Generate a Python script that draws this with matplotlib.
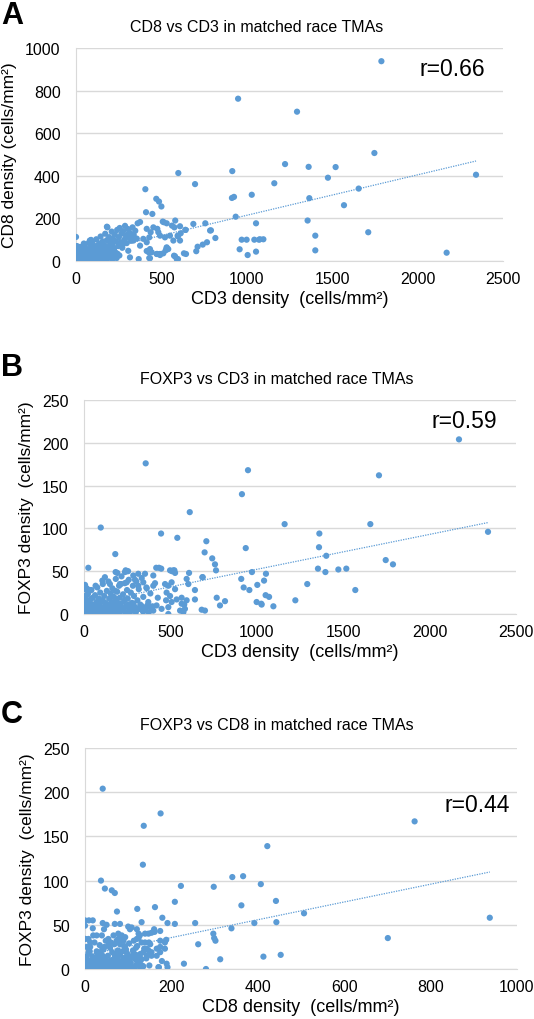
import numpy as np
import matplotlib.pyplot as plt

plt.rcParams['font.family'] = ['Liberation Sans', 'DejaVu Sans']

# ---------------- Painel A: CD8 vs CD3 ----------------
# pontos dispersos (fora do aglomerado principal)
a_cd3 = [1788, 1294, 1747, 1224, 1362, 1520, 1475, 1161, 1655, 1366, 1569, 2342, 1356, 1711,
         1401, 1401, 2170, 1097, 1077, 949, 915, 599, 697, 1029, 913, 925, 935, 406, 470, 486,
         500, 410, 447, 361, 375, 581, 508, 531, 687, 757, 790, 816, 1054, 970, 999, 1044,
         1071, 958, 1005, 1054, 767, 742, 712, 704, 640, 613, 597, 632, 644, 574, 597, 531,
         525, 472, 492, 511, 429, 367, 414, 426, 0, 0, 181, 88, 514, 562, 576, 609, 642, 453,
         476, 482, 414, 437, 429, 394, 414, 492, 521, 550, 570, 595, 609, 375, 433, 443, 476,
         492, 531, 540, 580, 590, 433, 785, 306, 326, 336, 306, 316, 184, 82]
a_cd8 = [938, 701, 507, 455, 442, 441, 391, 365, 340, 295, 262, 405, 190, 135,
         119, 50, 39, 102, 102, 762, 422, 413, 361, 311, 296, 301, 208, 337, 292, 279,
         256, 229, 221, 177, 183, 190, 185, 177, 174, 177, 144, 108, 177, 100, 100, 100,
         100, 55, 28, 44, 88, 77, 67, 46, 146, 130, 116, 36, 33, 25, 9, 61,
         50, 33, 33, 36, 14, 9, 47, 41, 113, 69, 161, 99, 182, 166, 158, 163, 146, 158,
         151, 135, 151, 135, 111, 104, 88, 119, 111, 119, 96, 119, 96, 72, 56, 41, 33,
         28, 64, 56, 22, 9, 13, 143, 127, 111, 96, 48, 17, 158, 96]
# aglomerado de baixa densidade
a_cd3_aglom = [4, 7, 11, 14, 19, 23, 26, 31, 36, 39, 44, 47, 53, 57, 61, 66, 69, 74, 79, 83,
               87, 93, 96, 101, 106, 111, 116, 119, 124, 131, 134, 139, 144, 149, 153, 157, 163,
               167, 171, 176, 181, 186, 189, 194, 199, 204, 209, 213, 217, 223, 227, 233, 236,
               241, 247, 251, 256, 261, 266, 271, 276, 283, 287, 293, 297, 304, 311, 316, 323,
               331, 338, 347, 356, 9, 17, 29, 42, 58, 71, 89, 104, 122, 137, 158, 178, 196, 214,
               231, 254, 273, 2, 5, 13, 21, 27, 34, 41, 49, 55, 63, 68, 77, 85, 92, 99, 108, 114,
               127, 141, 148, 16, 38, 51, 73, 95, 118, 6, 24, 46, 81,
               3, 8, 15, 22, 28, 35, 43, 50, 58, 65, 72, 80, 88, 97, 105, 113, 121, 129, 138, 146,
               155, 164, 173, 183, 192, 202, 212, 222, 232, 243, 12, 32, 54, 76, 98, 126, 152,
               178, 206, 238]
a_cd8_aglom = [12, 40, 3, 25, 58, 9, 33, 18, 5, 47, 27, 72, 14, 38, 56, 7, 23, 84, 41, 15,
               62, 30, 90, 48, 11, 70, 36, 102, 55, 22, 80, 45, 115, 64, 8, 92, 37,
               74, 128, 52, 98, 20, 66, 112, 86, 42, 138, 75, 104, 58, 125, 92, 30,
               146, 70, 112, 155, 88, 128, 62, 140, 100, 165, 118, 84, 150, 110, 132, 95,
               158, 122, 142, 105, 2, 6, 4, 8, 3, 12, 5, 28, 16, 35, 60, 18, 52, 88,
               40, 26, 76, 30, 15, 52, 6, 44, 22, 60, 4, 28, 48, 15, 35, 52, 10, 68, 32, 50,
               42, 26, 85, 20, 10, 64, 55, 40, 24, 70, 66, 82, 95,
               2, 6, 1, 10, 4, 14, 2, 8, 20, 3, 11, 25, 6, 16, 2, 30, 9, 18, 4, 36,
               12, 22, 6, 40, 15, 28, 8, 45, 18, 34, 3, 5, 9, 4, 7, 12, 20,
               10, 24, 14]

# ---------------- Painel B: FOXP3 vs CD3 ----------------
b_cd3 = [2170, 1707, 1161, 1657, 2338, 1362, 1360, 1402, 1746, 1788, 1354, 1397, 1472, 1518,
         1292, 1570, 1223, 1096, 1028, 1051, 1071, 1042, 1053, 357, 949, 914, 612, 97, 446,
         540, 708, 698, 742, 758, 764, 936, 972, 910, 924, 957, 1003, 999, 1026, 181, 25, 183,
         193, 241, 255, 418, 434, 447, 498, 509, 523, 608, 594, 687, 106, 6, 16, 35, 768, 816,
         787, 642, 642, 700, 580, 575, 488, 517, 527, 401, 604, 594, 565, 565, 584, 556, 681,
         685, 469, 488, 507, 527, 478, 498, 475, 507, 536, 488, 449, 420, 401, 382, 285, 314,
         353, 247, 237, 6, 150, 208, 247, 295, 314, 343, 363, 401]
b_foxp3 = [204, 162, 105, 105, 96, 94, 78, 68, 63, 58, 53, 49, 52, 53,
           35, 28, 16, 9, 11, 22, 20, 39, 47, 176, 168, 140, 119, 101, 94,
           89, 85, 72, 65, 58, 51, 77, 49, 41, 31, 28, 34, 14, 12, 70, 54, 49,
           48, 51, 50, 54, 54, 53, 51, 50, 51, 48, 41, 43, 39, 34, 30, 28, 19, 15,
           10, 28, 17, 4, 11, 2, 0, 51, 48, 45, 35, 16, 19, 12, 6, 4, 5,
           43, 35, 33, 37, 29, 25, 21, 16, 14, 17, 8, 6, 10, 4, 8, 45, 47,
           47, 50, 49, 29, 35, 35, 37, 40, 33, 37, 30, 33]
b_cd3_aglom = [3, 7, 12, 16, 21, 24, 29, 33, 38, 43, 46, 51, 56, 59, 64, 69, 73, 77, 82, 86,
               91, 94, 99, 104, 109, 113, 117, 123, 127, 132, 136, 141, 146, 151, 154, 159, 164,
               169, 173, 178, 184, 187, 192, 197, 203, 207, 212, 217, 221, 226, 232, 236, 243,
               249, 253, 259, 264, 271, 277, 283, 289, 296, 303, 309, 317, 326, 334, 343, 352,
               361, 372, 384, 396, 411, 427, 9, 19, 36, 48, 61, 79, 96, 115, 134, 156, 176, 199,
               223, 246, 268, 292, 315, 341, 367, 14, 41, 67, 88, 121, 143, 181, 214, 257,
               4, 10, 18, 26, 34, 42, 52, 62, 72, 84, 95, 107, 119, 131, 144, 157, 170, 184, 198,
               212, 226, 240, 255, 270, 286, 300, 318, 336, 355, 375, 8, 30, 55, 80, 110, 140,
               172, 205, 238, 275]
b_foxp3_aglom = [8, 2, 17, 5, 12, 24, 3, 15, 9, 28, 4, 19, 11, 2, 22, 7, 14, 31, 6, 18,
                 10, 25, 3, 16, 35, 8, 21, 13, 4, 27, 11, 38, 18, 6, 24, 14, 30,
                 3, 20, 9, 41, 16, 26, 7, 33, 19, 12, 44, 4, 23, 15, 36, 9,
                 28, 18, 40, 6, 25, 13, 33, 21, 8, 38, 16, 29, 11, 42, 20, 6,
                 31, 14, 24, 9, 36, 19, 1, 6, 2, 7, 3, 10, 2, 5, 2, 9, 3, 12,
                 5, 2, 8, 4, 6, 3, 10, 22, 18, 33, 12, 43, 8, 27, 35, 11,
                 1, 4, 2, 6, 1, 3, 5, 2, 8, 1, 4, 6, 2, 9, 3, 1, 7, 4, 2,
                 10, 5, 1, 8, 3, 12, 2, 6, 9, 4, 2, 12, 14, 9, 11, 15, 7,
                 13, 2, 17, 5]

# ---------------- Painel C: FOXP3 vs CD8 ----------------
c_cd8 = [763, 422, 407, 442, 507, 443, 937, 701, 413, 453, 366, 362, 392, 41, 175, 136, 134,
         37, 46, 62, 69, 222, 298, 341, 208, 121, 162, 74, 179, 191, 208, 255, 339, 297, 299,
         302, 262, 313, 229, 280, 0, 9, 18, 0, 0, 41, 50, 44, 69, 81, 100, 108, 104, 131, 161,
         174, 147, 124, 139, 151, 188, 18, 27, 8, 39, 54, 66, 77, 85, 93, 174, 185, 189, 170,
         152, 166, 178, 143, 135, 127, 127, 149, 118, 112, 160, 154, 139, 124, 120, 174, 185,
         174, 166, 154, 147, 154, 143, 131, 171, 191, 131, 127, 120, 85, 89, 81, 73, 77, 19,
         12, 0, 4]
c_foxp3 = [167, 139, 96, 77, 63, 53, 58, 35, 14, 16, 105, 72, 52, 204, 176, 162, 118,
           100, 91, 89, 86, 94, 93, 104, 76, 68, 70, 65, 58, 52, 51, 52, 46, 40, 35,
           32, 28, 11, 6, 0, 55, 55, 55, 49, 34, 52, 50, 45, 51, 51, 48, 47, 45, 53, 42,
           43, 40, 35, 30, 28, 33, 46, 38, 34, 38, 34, 38, 34, 38, 36, 19, 23, 6, 2,
           17, 15, 9, 23, 19, 13, 6, 4, 24, 19, 45, 41, 40, 40, 45, 32, 30,
           25, 23, 19, 21, 15, 15, 11, 2, 2, 30, 38, 34, 36, 32, 28, 32, 40, 38,
           30, 34, 25]
c_cd8_aglom = [1, 3, 5, 8, 10, 12, 15, 17, 19, 22, 24, 27, 29, 31, 34, 36, 39, 41, 43, 46,
               48, 51, 53, 56, 58, 61, 63, 66, 68, 71, 73, 76, 79, 81, 84, 86, 89, 92, 94, 97,
               99, 102, 105, 108, 111, 114, 117, 121, 124, 128, 132, 137, 142, 148, 2, 7, 13,
               18, 25, 32, 38, 44, 50, 57, 64, 70, 77, 83, 90, 96, 103, 110, 119, 127, 135, 4,
               11, 21, 30, 40, 49, 60, 69, 80, 91, 101, 113, 125, 6, 16, 26, 35, 45, 55, 65, 75,
               87, 98, 109,
               2, 6, 11, 16, 21, 26, 33, 37, 42, 47, 52, 59, 62, 67, 72, 78, 82, 88, 93, 100,
               106, 115, 122, 130, 9, 28, 45, 74, 95, 118, 14, 35, 54, 69, 85, 104, 3, 23, 48, 60]
c_foxp3_aglom = [4, 11, 2, 18, 7, 25, 3, 14, 9, 30, 5, 20, 12, 2, 27, 8, 16, 4, 22, 11,
                 32, 6, 15, 3, 24, 10, 19, 1, 28, 13, 6, 21, 3, 16, 33, 8, 12, 25, 4, 18,
                 10, 29, 6, 14, 21, 2, 11, 26, 7, 17, 4, 23, 12, 30, 1, 2, 1,
                 3, 2, 1, 3, 2, 1, 2, 3, 1, 2, 4, 1, 3, 2, 1, 5, 2, 3, 14,
                 20, 8, 16, 24, 9, 30, 17, 8, 26, 15, 32, 10, 6, 9, 13, 19, 6, 28, 4, 12,
                 20, 7, 14,
                 6, 1, 9, 3, 12, 2, 7, 1, 14, 4, 9, 1, 6, 11, 2, 8, 1, 5, 13, 3,
                 7, 2, 10, 4, 20, 18, 25, 12, 22, 16, 7, 10, 5, 15, 9, 11, 3, 5, 2, 6]

COR = '#5B9BD5'
GRADE = '#D9D9D9'
W, H = 534, 1020


def desenhar_painel(ax, x, y, xlim, ylim, xticks, yticks, xlabel, ylabel):
    """Desenha um painel de dispersão no estilo Excel com linha de tendência."""
    x = np.asarray(x, dtype=float)
    y = np.asarray(y, dtype=float)

    ax.scatter(x, y, s=20, color=COR, edgecolors='none', zorder=3)

    # Linha de tendência linear (pontilhada)
    coef = np.polyfit(x, y, 1)
    xs = np.array([x.min(), x.max()])
    ax.plot(xs, np.polyval(coef, xs), color=COR, lw=0.9,
            linestyle=(0, (1, 1)), zorder=4)

    ax.set_xlim(*xlim)
    ax.set_ylim(*ylim)
    ax.set_xticks(xticks)
    ax.set_yticks(yticks)
    ax.tick_params(length=0, labelsize=11.5, colors='#000000')
    ax.tick_params(axis='y', pad=11)
    ax.tick_params(axis='x', pad=7)
    ax.yaxis.grid(True, color=GRADE, lw=1)
    ax.set_axisbelow(True)
    for lado in ['top', 'right']:
        ax.spines[lado].set_visible(False)
    for lado in ['left', 'bottom']:
        ax.spines[lado].set_color(GRADE)
    ax.set_xlabel(xlabel, fontsize=13, labelpad=3)
    ax.set_ylabel(ylabel, fontsize=12.5, labelpad=6)


def eixo(left, top, right, bottom):
    return fig.add_axes([left / W, 1 - bottom / H, (right - left) / W, (bottom - top) / H])


fig = plt.figure(figsize=(W / 100, H / 100), dpi=100)

ax_a = eixo(76, 49, 503, 262)
desenhar_painel(ax_a, a_cd3 + a_cd3_aglom, a_cd8 + a_cd8_aglom, (0, 2500), (0, 1000),
                [0, 500, 1000, 1500, 2000, 2500], [0, 200, 400, 600, 800, 1000],
                'CD3 density  (cells/mm²)', 'CD8 density (cells/mm²)')

ax_b = eixo(84, 401, 516, 615)
desenhar_painel(ax_b, b_cd3 + b_cd3_aglom, b_foxp3 + b_foxp3_aglom, (0, 2500), (0, 250),
                [0, 500, 1000, 1500, 2000, 2500], [0, 50, 100, 150, 200, 250],
                'CD3 density  (cells/mm²)', 'FOXP3 density  (cells/mm²)')

ax_c = eixo(85, 749, 517, 970)
desenhar_painel(ax_c, c_cd8 + c_cd8_aglom, c_foxp3 + c_foxp3_aglom, (0, 1000), (0, 250),
                [0, 200, 400, 600, 800, 1000], [0, 50, 100, 150, 200, 250],
                'CD8 density  (cells/mm²)', 'FOXP3 density  (cells/mm²)')

# Títulos, letras dos painéis e coeficientes
titulos = [('A', 'CD8 vs CD3 in matched race TMAs', 257, 27, 'r=0.66', 485, 70),
           ('B', 'FOXP3 vs CD3 in matched race TMAs', 277, 379, 'r=0.59', 497, 422),
           ('C', 'FOXP3 vs CD8 in matched race TMAs', 277, 726, 'r=0.44', 510, 806)]
for letra, titulo, tx, ty, r, rx, ry in titulos:
    fig.text(tx / W, 1 - ty / H, titulo, fontsize=11.5, ha='center', va='center')
    fig.text(1 / W, 1 - (ty - 26) / H, letra, fontsize=22, weight='bold', ha='left', va='top')
    fig.text(rx / W, 1 - ry / H, r, fontsize=16.5, ha='right', va='center')

fig.savefig('out.png', dpi=100)
